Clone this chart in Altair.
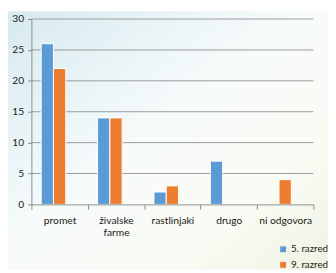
import altair as alt
import pandas as pd

categories = ["promet", "živalske farme", "rastlinjaki", "drugo", "ni odgovora"]
series = ["5. razred", "9. razred"]
values_5 = [26, 14, 2, 7, 0]
values_9 = [22, 14, 3, 0, 4]
y_ticks = [0, 5, 10, 15, 20, 25, 30]

rows = []
for c, a, b in zip(categories, values_5, values_9):
    rows.append({"kategorija": c, "razred": series[0], "vrednost": a})
    rows.append({"kategorija": c, "razred": series[1], "vrednost": b})
df = pd.DataFrame(rows)
grid_df = pd.DataFrame({"vrednost": y_ticks[1:]})

FONT = "Lato"

yscale = alt.Scale(domain=[0, 30], nice=False)
yaxis = alt.Axis(
    title=None,
    values=y_ticks,
    labelFont=FONT,
    labelFontSize=10.5,
    labelColor="#222222",
    labelPadding=4,
    tickSize=4,
    tickColor="#8c8c8c",
    domainColor="#8c8c8c",
    grid=False,
    zindex=1,
)

bg = alt.Chart(pd.DataFrame({"a": [0]})).mark_rect(
    color=alt.LinearGradient(
        gradient="linear",
        stops=[
            alt.GradientStop(color="#d6eaf0", offset=0),
            alt.GradientStop(color="#f7fbfb", offset=0.45),
            alt.GradientStop(color="#fafbf4", offset=0.75),
            alt.GradientStop(color="#eef3e2", offset=1),
        ],
        x1=0, x2=1, y1=0, y2=1,
    )
).encode(
    x=alt.value(-24), x2=alt.value(304), y=alt.value(-8), y2=alt.value(257)
)

grid = alt.Chart(grid_df).mark_rule(color="#9a9a9a", strokeWidth=1).encode(
    y=alt.Y("vrednost:Q", scale=yscale, axis=yaxis),
    x=alt.value(0),
    x2=alt.value(289),
)

bars = alt.Chart(df).transform_filter("datum.vrednost > 0").mark_bar(
    stroke="white", strokeWidth=1
).encode(
    x=alt.X(
        "kategorija:N",
        sort=categories,
        scale=alt.Scale(paddingInner=0, paddingOuter=0),
        axis=alt.Axis(
            title=None,
            labelAngle=0,
            labelFont=FONT,
            labelFontSize=10.5,
            labelColor="#222222",
            labelExpr="datum.label == 'živalske farme' ? ['živalske', 'farme'] : datum.label",
            labelPadding=7,
            labelLineHeight=12,
            tickBand="extent",
            ticks=True,
            tickSize=5,
            tickColor="#8c8c8c",
            domainColor="#8c8c8c",
            grid=False,
            zindex=1,
        ),
    ),
    xOffset=alt.XOffset(
        "razred:N",
        scale=alt.Scale(domain=series + ["_"], paddingInner=0, paddingOuter=0.795, align=0.5),
    ),
    y=alt.Y("vrednost:Q", scale=yscale, axis=yaxis),
    color=alt.Color(
        "razred:N",
        sort=series,
        scale=alt.Scale(domain=series, range=["#5B9BD5", "#ED7D31"]),
        legend=alt.Legend(
            title=None,
            orient="none",
            legendX=253,
            legendY=231,
            symbolType="square",
            symbolSize=36,
            symbolStrokeWidth=0,
            labelFont=FONT,
            labelFontSize=10,
            labelColor="#222222",
            rowPadding=6,
            labelOffset=3,
            labelLimit=0,
        ),
    ),
)

chart = alt.layer(bg, grid, bars).properties(
    width=289,
    height=190,
    autosize=alt.AutoSizeParams(type="none"),
    padding={"left": 24, "top": 8, "right": 15, "bottom": 67},
    background="white",
).configure_view(stroke=None)

chart.save("out.html", embed_options={"renderer": "svg", "actions": False})
